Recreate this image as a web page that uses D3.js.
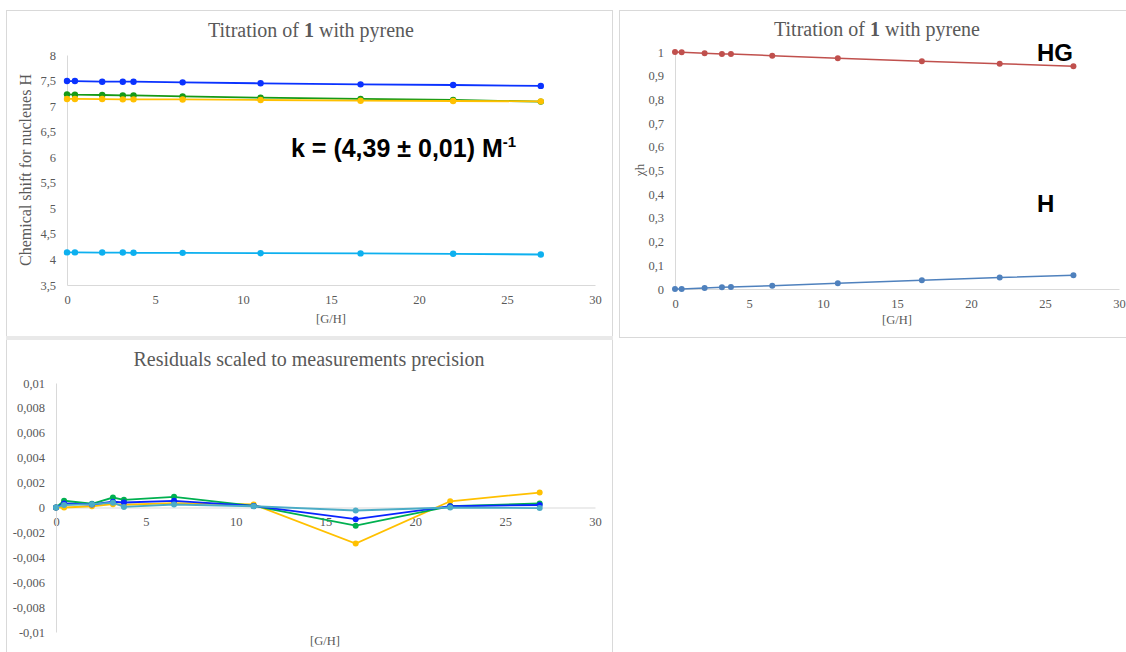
<!DOCTYPE html>
<html>
<head>
<meta charset="utf-8">
<script src="https://cdn.jsdelivr.net/npm/d3@7"></script>
<style>
  body { margin: 0; background: #ffffff; }
  svg { display: block; }
</style>
</head>
<body>
<svg id="chart" width="1126" height="652"></svg>
<script>
// ---------- DATA ----------
const ratioGH = [0, 0.45, 2, 3.17, 3.78, 6.57, 11, 16.68, 21.94, 26.92];

// Panel 1: chemical shifts
const shiftBlue   = [7.49, 7.49, 7.478, 7.478, 7.478, 7.465, 7.446, 7.426, 7.413, 7.395];
const shiftGreen  = [7.23, 7.224, 7.217, 7.21, 7.21, 7.19, 7.165, 7.14, 7.12, 7.088];
const shiftYellow = [7.14, 7.14, 7.138, 7.132, 7.132, 7.13, 7.12, 7.106, 7.1, 7.093];
const shiftCyan   = [4.138, 4.138, 4.135, 4.135, 4.13, 4.128, 4.122, 4.118, 4.11, 4.097];

// Panel 2: molar fractions
const fracHG = [1.0, 0.9986, 0.9944, 0.9915, 0.9912, 0.9845, 0.9735, 0.9608, 0.9508, 0.9398];
const fracH  = [0.0, 0.0005, 0.0042, 0.007, 0.0085, 0.014, 0.024, 0.037, 0.048, 0.058];

// Panel 3: residuals
const resBlue   = [0, 0.00032, 0.00024, 0.00046, 0.0004, 0.00054, 0.00013, -0.00094, 0.0001, 0.0002];
const resGreen  = [0, 0.00054, 0.0003, 0.0008, 0.00062, 0.00086, 0.00013, -0.00146, 0.0001, 0.00032];
const resYellow = [0, 0.0, 0.0001, 0.00027, 0.00022, 0.00035, 0.00024, -0.0029, 0.0005, 0.0012];
const resTeal   = [0, 0.0002, 0.00027, 0.00038, 0.00005, 0.00024, 0.0001, -0.00024, 0.0, -0.00005];

// Tick values
const xTicks  = [0, 5, 10, 15, 20, 25, 30];
const y1Ticks = [3.5, 4, 4.5, 5, 5.5, 6, 6.5, 7, 7.5, 8];
const y2Ticks = [0, 0.1, 0.2, 0.3, 0.4, 0.5, 0.6, 0.7, 0.8, 0.9, 1];
const y3Ticks = [-0.01, -0.008, -0.006, -0.004, -0.002, 0, 0.002, 0.004, 0.006, 0.008, 0.01];

// ---------- DRAW ----------
const svg = d3.select("#chart");
const serif = "'Liberation Serif', 'Times New Roman', serif";
const sans = "'Liberation Sans', Arial, sans-serif";
const grayText = "#595959";
const axisGray = "#d9d9d9";
const fmt = d => String(d).replace(".", ",");

// frames
const frames = svg.append("g");
frames.append("rect").attr("x", 6.5).attr("y", 10.5).attr("width", 606).attr("height", 326)
  .attr("fill", "none").attr("stroke", axisGray);
frames.append("rect").attr("x", 6).attr("y", 336).attr("width", 607).attr("height", 4).attr("fill", "#e9e9e9");
frames.append("line").attr("x1", 6.5).attr("x2", 6.5).attr("y1", 340).attr("y2", 652).attr("stroke", axisGray);
frames.append("line").attr("x1", 612.5).attr("x2", 612.5).attr("y1", 340).attr("y2", 652).attr("stroke", axisGray);
frames.append("rect").attr("x", 619.5).attr("y", 10.5).attr("width", 520).attr("height", 327)
  .attr("fill", "none").attr("stroke", axisGray);

function title(x, y, parts) {
  const t = svg.append("text").attr("x", x).attr("y", y).attr("text-anchor", "middle")
    .attr("font-family", serif).attr("font-size", 20).attr("fill", grayText);
  parts.forEach(p => t.append("tspan").text(p[0]).attr("font-weight", p[1] ? "bold" : "normal"));
}

function styleAxis(g) {
  g.attr("font-family", serif).attr("font-size", 12.5);
  g.selectAll(".domain").attr("stroke", axisGray).attr("stroke-width", 1);
  g.selectAll("text").attr("font-family", serif).attr("font-size", 12.5).attr("fill", grayText);
}

function series(x, y, vals, color, r, w) {
  const g = svg.append("g");
  const pts = ratioGH.map((d, i) => [d, vals[i]]);
  g.append("path").datum(pts)
    .attr("d", d3.line().x(d => x(d[0])).y(d => y(d[1])))
    .attr("fill", "none").attr("stroke", color).attr("stroke-width", w);
  g.selectAll("circle").data(pts).join("circle")
    .attr("cx", d => x(d[0])).attr("cy", d => y(d[1])).attr("r", r).attr("fill", color);
}

// ---- Panel 1 ----
{
  const x = d3.scaleLinear().domain([0, 30]).range([67, 595]);
  const y = d3.scaleLinear().domain([3.5, 8]).range([285, 55]);
  title(311, 37, [["Titration of ", false], ["1", true], [" with pyrene", false]]);
  svg.append("g").attr("transform", `translate(0,${y(3.5)})`)
    .call(d3.axisBottom(x).tickValues(xTicks).tickFormat(fmt).tickSize(0).tickSizeOuter(0).tickPadding(10))
    .call(styleAxis);
  svg.append("g").attr("transform", `translate(${x(0)},0)`)
    .call(d3.axisLeft(y).tickValues(y1Ticks).tickFormat(fmt).tickSize(0).tickSizeOuter(0).tickPadding(11))
    .call(styleAxis);
  svg.append("text").attr("transform", "translate(31,170) rotate(-90)").attr("text-anchor", "middle")
    .attr("font-family", serif).attr("font-size", 16).attr("fill", grayText).text("Chemical shift for nucleues H");
  svg.append("text").attr("x", 331).attr("y", 323).attr("text-anchor", "middle")
    .attr("font-family", serif).attr("font-size", 12.5).attr("fill", grayText).text("[G/H]");
  series(x, y, shiftBlue, "#0a32ff", 3.2, 1.8);
  series(x, y, shiftGreen, "#169a16", 3.2, 1.8);
  series(x, y, shiftYellow, "#ffc000", 3.2, 1.8);
  series(x, y, shiftCyan, "#0db0ef", 3.2, 1.8);
  const k = svg.append("text").attr("x", 291).attr("y", 157)
    .attr("font-family", sans).attr("font-size", 25).attr("font-weight", "bold").attr("fill", "#000");
  k.append("tspan").text("k = (4,39 \u00B1 0,01) M");
  k.append("tspan").attr("dy", -10).attr("font-size", 15).text("-1");
}

// ---- Panel 2 ----
{
  const x = d3.scaleLinear().domain([0, 30]).range([675, 1119]);
  const y = d3.scaleLinear().domain([0, 1]).range([289, 52]);
  title(877, 36, [["Titration of ", false], ["1", true], [" with pyrene", false]]);
  svg.append("g").attr("transform", `translate(0,${y(0)})`)
    .call(d3.axisBottom(x).tickValues(xTicks).tickFormat(fmt).tickSize(0).tickSizeOuter(0).tickPadding(10))
    .call(styleAxis);
  svg.append("g").attr("transform", `translate(${x(0)},0)`)
    .call(d3.axisLeft(y).tickValues(y2Ticks).tickFormat(fmt).tickSize(0).tickSizeOuter(0).tickPadding(11))
    .call(styleAxis);
  svg.append("text").attr("transform", "translate(644,170) rotate(-90)").attr("text-anchor", "middle")
    .attr("font-family", serif).attr("font-size", 13).attr("fill", grayText).text("\u03C7h");
  svg.append("text").attr("x", 897).attr("y", 324).attr("text-anchor", "middle")
    .attr("font-family", serif).attr("font-size", 12.5).attr("fill", grayText).text("[G/H]");
  series(x, y, fracHG, "#c0504d", 3, 1.5);
  series(x, y, fracH, "#4f81bd", 3, 1.5);
  svg.append("text").attr("x", 1037).attr("y", 61).attr("font-family", sans).attr("font-size", 24)
    .attr("font-weight", "bold").attr("fill", "#000").text("HG");
  svg.append("text").attr("x", 1037).attr("y", 212).attr("font-family", sans).attr("font-size", 24)
    .attr("font-weight", "bold").attr("fill", "#000").text("H");
}

// ---- Panel 3 ----
{
  const x = d3.scaleLinear().domain([0, 30]).range([56, 595]);
  const y = d3.scaleLinear().domain([-0.01, 0.01]).range([632, 383]);
  title(309, 366, [["Residuals scaled to measurements precision", false]]);
  svg.append("g").attr("transform", `translate(0,${y(0)})`)
    .call(d3.axisBottom(x).tickValues(xTicks).tickFormat(fmt).tickSize(0).tickSizeOuter(0).tickPadding(10))
    .call(styleAxis);
  svg.append("g").attr("transform", `translate(${x(0)},0)`)
    .call(d3.axisLeft(y).tickValues(y3Ticks).tickFormat(fmt).tickSize(0).tickSizeOuter(0).tickPadding(11))
    .call(styleAxis);
  svg.append("text").attr("x", 325).attr("y", 645).attr("text-anchor", "middle")
    .attr("font-family", serif).attr("font-size", 12.5).attr("fill", grayText).text("[G/H]");
  series(x, y, resYellow, "#ffc000", 3, 1.8);
  series(x, y, resGreen, "#00b050", 3, 1.8);
  series(x, y, resBlue, "#0a24ff", 3, 1.8);
  series(x, y, resTeal, "#4bacc6", 3, 1.8);
}
</script>
</body>
</html>
